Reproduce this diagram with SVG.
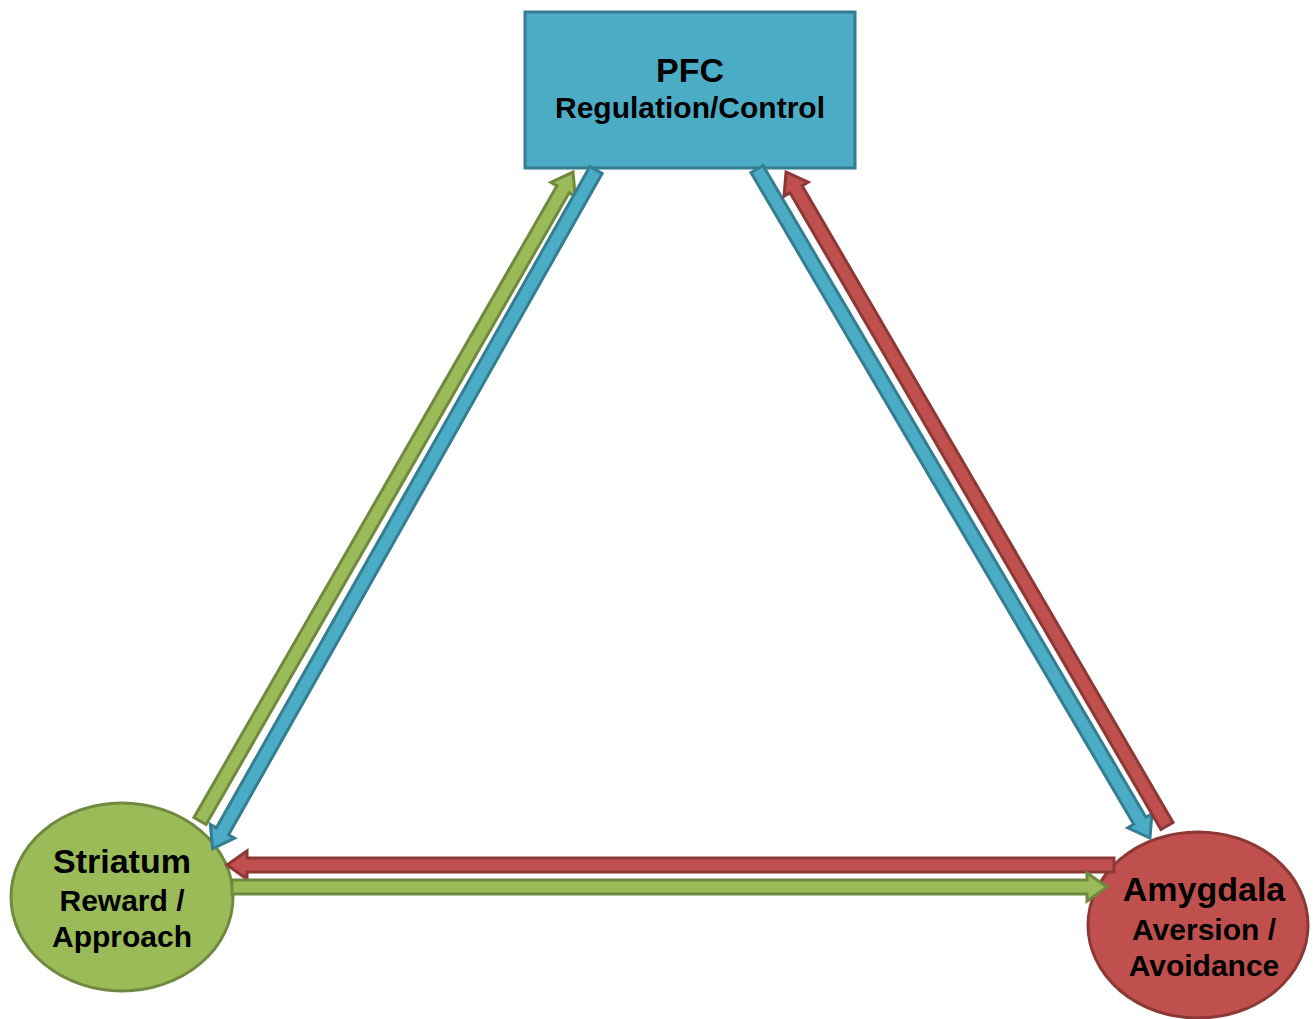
<svg xmlns="http://www.w3.org/2000/svg" width="1316" height="1019" viewBox="0 0 1316 1019">
  <style>
    .lbl { font-family: "Liberation Sans", Arial, sans-serif; font-weight: bold; fill: #000; text-anchor: middle; }
    .big { font-size: 34px; }
    .sub { font-size: 30px; }
    .blue { fill: #4BACC6; stroke: #357D91; stroke-width: 3; stroke-linejoin: miter; }
    .green { fill: #9BBB59; stroke: #71893F; stroke-width: 3; stroke-linejoin: miter; }
    .red { fill: #C0504D; stroke: #8C3836; stroke-width: 3; stroke-linejoin: miter; }
  </style>
  <rect width="1316" height="1019" fill="#FFFFFF"/>
  <g id="pfc">
    <rect class="blue" x="525" y="12" width="330" height="156"/>
    <text class="lbl big" x="690" y="82">PFC</text>
    <text class="lbl sub" x="690" y="118">Regulation/Control</text>
  </g>
  <g id="striatum">
    <ellipse class="green" cx="122" cy="897" rx="111" ry="94"/>
    <text class="lbl big" x="122" y="873">Striatum</text>
    <text class="lbl sub" x="122" y="911">Reward /</text>
    <text class="lbl sub" x="122" y="947">Approach</text>
  </g>
  <g id="amygdala">
    <ellipse class="red" cx="1198" cy="925" rx="110" ry="93"/>
    <text class="lbl big" x="1204" y="901">Amygdala</text>
    <text class="lbl sub" x="1204" y="940">Aversion /</text>
    <text class="lbl sub" x="1204" y="976">Avoidance</text>
  </g>
  <g id="connectors">
    <path class="green" transform="translate(200,821) rotate(-60.11)" d="M0,-7 H728.55 V-14 L748.55,0 L728.55,14 V7 H0 Z"/>
    <path class="blue" transform="translate(596,170) rotate(119.46)" d="M0,-7 H759.5 V-14 L779.5,0 L759.5,14 V7 H0 Z"/>
    <path class="blue" transform="translate(757,169) rotate(59.57)" d="M0,-7 H755.9 V-14 L775.9,0 L755.9,14 V7 H0 Z"/>
    <path class="red" transform="translate(1167,826) rotate(-120.22)" d="M0,-7 H736.9 V-14 L756.9,0 L736.9,14 V7 H0 Z"/>
    <path class="red" transform="translate(1114,865) rotate(180)" d="M0,-7 H867 V-14 L887,0 L867,14 V7 H0 Z"/>
    <path class="green" transform="translate(232,887)" d="M0,-7 H855 V-14 L875,0 L855,14 V7 H0 Z"/>
  </g>
</svg>
